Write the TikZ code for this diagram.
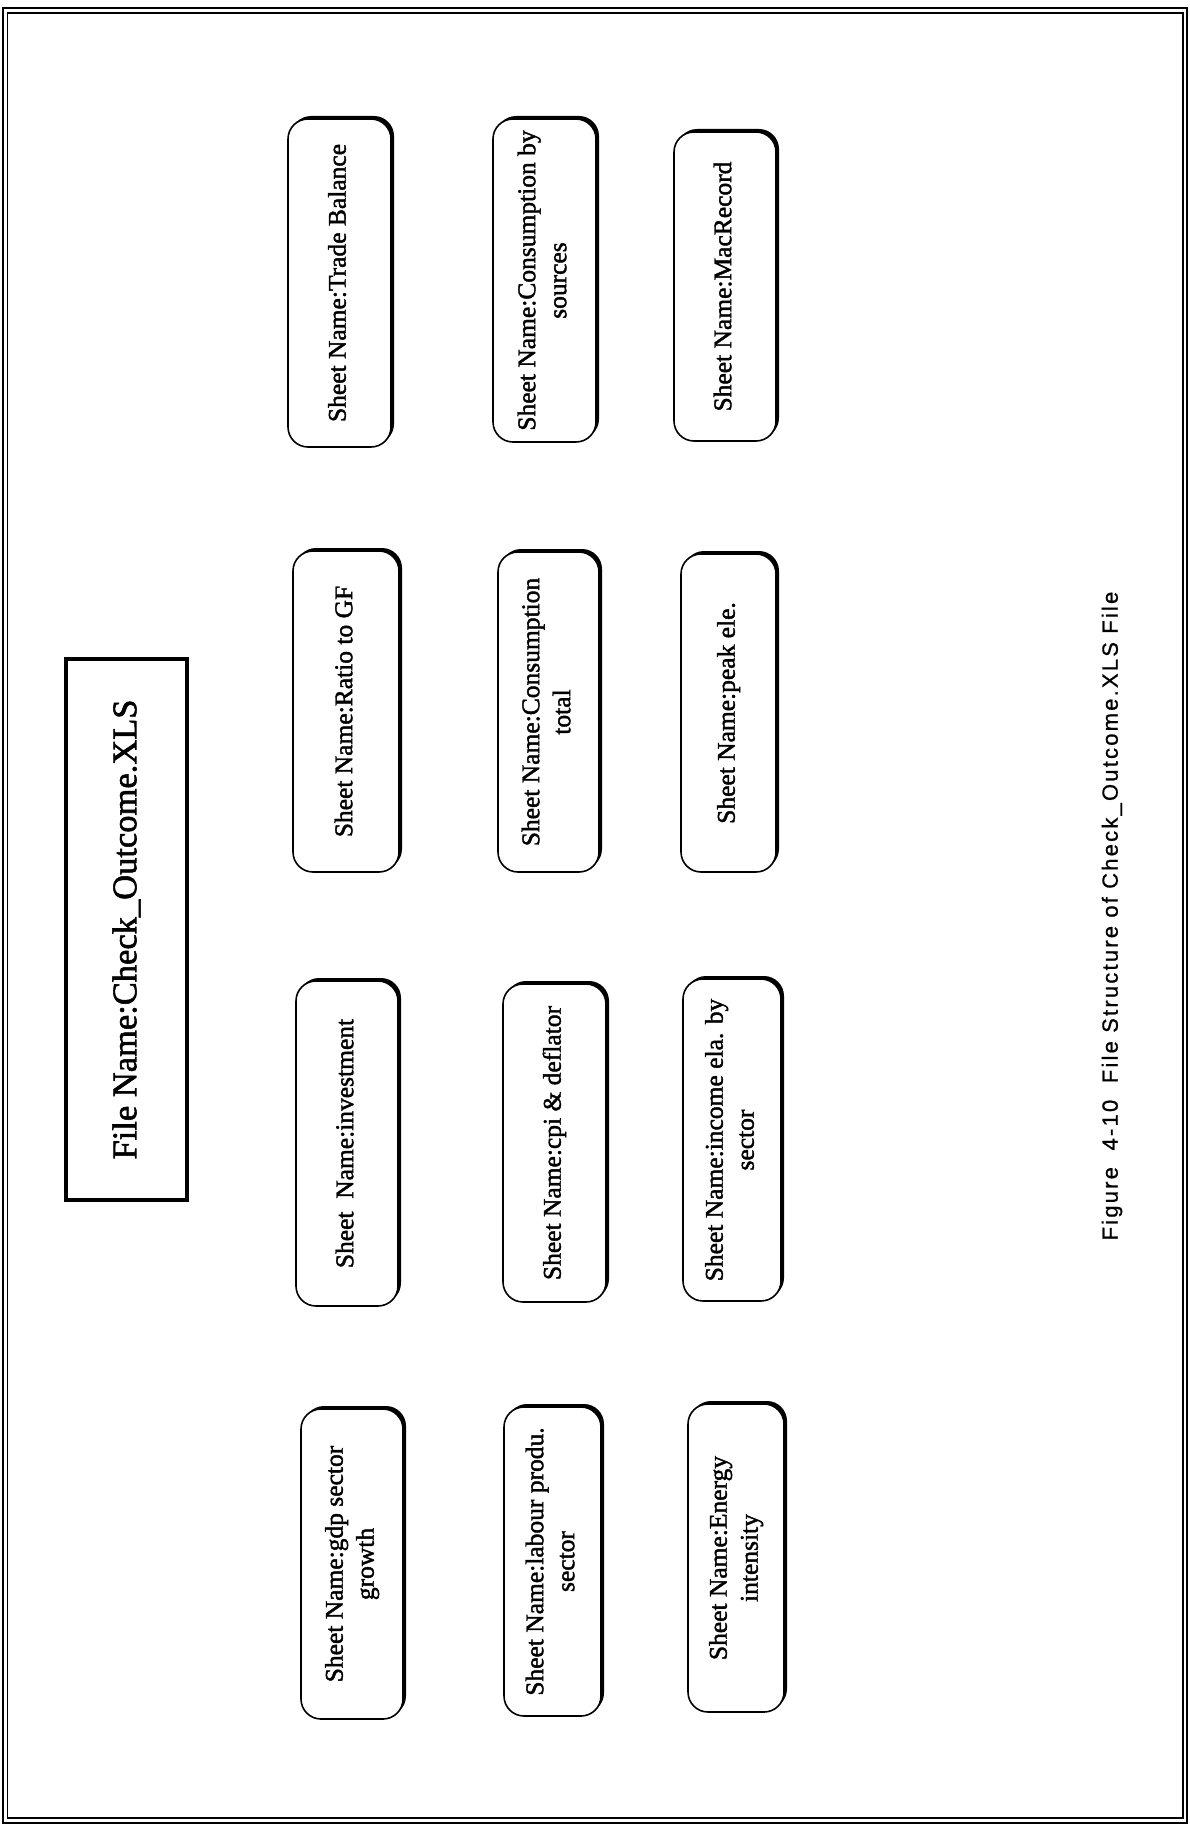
\documentclass[tikz,border=0pt]{standalone}
\usepackage{fontspec}
\usepackage{graphicx}
\usetikzlibrary{shadows}
\setmainfont{Liberation Serif}[FakeBold=1.6]
\newfontfamily\capfont[LetterSpace=10,FakeBold=0.8]{Liberation Sans}

% text set sideways, reading from bottom to top
\newcommand\sidetext[1]{\rotatebox{90}{\begin{tabular}{@{}c@{}}#1\end{tabular}}}

\tikzset{
  sheetbox/.style={draw, line width=1.6pt, rounded corners=20pt, fill=white,
    inner sep=0pt, font=\fontsize{25.5}{31}\selectfont,
    general shadow={fill=black, shadow xshift=3pt, shadow yshift=3pt}},
  filebox/.style={draw, line width=4pt, inner sep=0pt, font=\fontsize{34.5}{40}\selectfont},
}

\begin{document}
\begin{tikzpicture}[x=1pt,y=-1pt]
  \useasboundingbox (0,0) rectangle (1189,1827);

  % double page frame
  \draw[line width=1.5pt] (3,8) rectangle (1187,1823);
  \draw[line width=1.2pt] (7.5,13) rectangle (1183,1818);

  % file box
  \node[filebox, minimum width=121pt, minimum height=541pt] (file) at (126.5,929.5)
    {\rotatebox{90}{File Name:Check\_Outcome.XLS}};

  % sheets, first column
  \node[sheetbox, minimum width=103pt, minimum height=328pt] (tb) at (339.5,283)
    {\sidetext{Sheet Name:Trade Balance}};
  \node[sheetbox, minimum width=106pt, minimum height=321pt] (ratio) at (346,711.5)
    {\sidetext{Sheet Name:Ratio to GF}};
  \node[sheetbox, minimum width=102pt, minimum height=325pt] (inv) at (347,1143.5)
    {\sidetext{Sheet\ \ Name:investment}};
  \node[sheetbox, minimum width=102pt, minimum height=310pt] (gdp) at (352,1564)
    {\sidetext{Sheet Name:gdp sector\\growth}};

  % sheets, second column
  \node[sheetbox, minimum width=103pt, minimum height=323pt] (csrc) at (544.5,280.5)
    {\sidetext{Sheet Name:Consumption by\\sources}};
  \node[sheetbox, minimum width=101pt, minimum height=320pt] (ctot) at (548.5,712)
    {\sidetext{Sheet Name:Consumption\\total}};
  \node[sheetbox, minimum width=103pt, minimum height=318pt] (cpi) at (554.5,1143)
    {\sidetext{Sheet Name:cpi \& deflator}};
  \node[sheetbox, minimum width=97pt, minimum height=309pt] (lab) at (552.5,1561.5)
    {\sidetext{Sheet Name:labour produ.\\sector}};

  % sheets, third column
  \node[sheetbox, minimum width=102pt, minimum height=309pt] (mac) at (725,286.5)
    {\sidetext{Sheet Name:MacRecord}};
  \node[sheetbox, minimum width=95pt, minimum height=318pt] (peak) at (728.5,713)
    {\sidetext{Sheet Name:peak ele.}};
  \node[sheetbox, minimum width=98pt, minimum height=322pt] (inc) at (732,1140)
    {\sidetext{Sheet Name:income ela. by\\sector}};
  \node[sheetbox, minimum width=96pt, minimum height=308pt] (energy) at (736,1558)
    {\sidetext{Sheet Name:Energy\\intensity}};

  % caption
  \node[inner sep=0pt] (caption) at (1112,916)
    {\rotatebox{90}{\capfont\fontsize{22}{26}\selectfont Figure\ \ 4-10\ \ File Structure of Check\_Outcome.XLS File}};
\end{tikzpicture}
\end{document}
